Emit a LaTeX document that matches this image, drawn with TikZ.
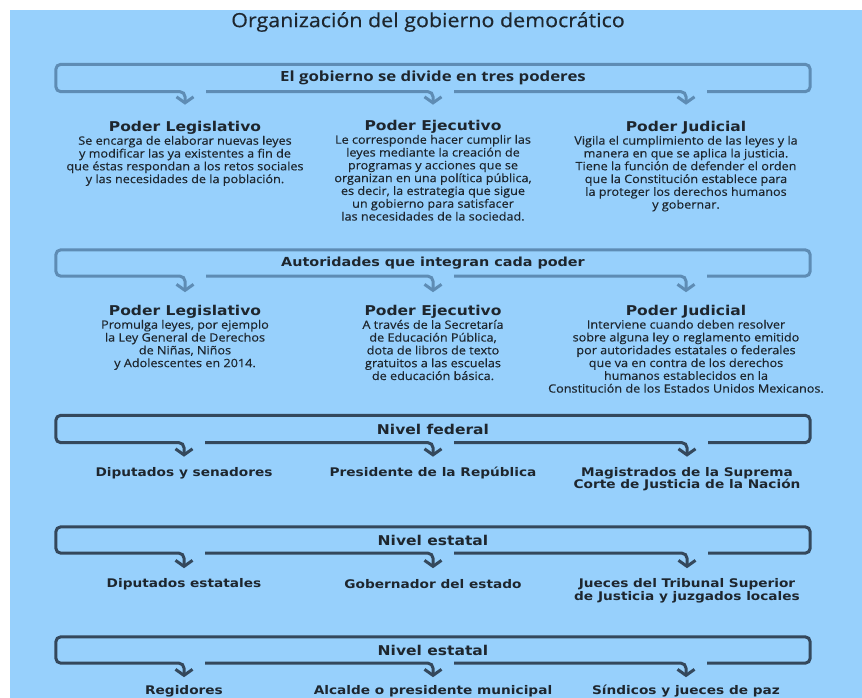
\documentclass[tikz,border=0pt]{standalone}
\usepackage{fontspec}
\setmainfont{Open Sans}
\newfontfamily\cuerpofont[FakeStretch=1.1, FakeBold=0.4]{Open Sans}
\newfontfamily\rotfont[FakeStretch=1.2]{Open Sans}
\newfontfamily\anchafont[FakeStretch=1.15]{DejaVu Sans}
\usetikzlibrary{positioning, arrows.meta}
\definecolor{SkyBack}{RGB}{151,208,252}
\definecolor{BarBlue}{RGB}{94,140,180}
\definecolor{BarDark}{RGB}{52,72,92}
\definecolor{InkGray}{RGB}{30,38,46}

\begin{document}
\begin{tikzpicture}[x=1pt, y=-1pt,
  every node/.style={text=InkGray, inner sep=0pt},
  titulo/.style={font=\cuerpofont\fontsize{19.5}{23}\selectfont},
  barra/.style={line width=3pt, rounded corners=5pt, -{Straight Barb[length=6pt, width=17pt]}},
  rotulo/.style={minimum width=754pt, minimum height=27pt, font=\anchafont\bfseries\fontsize{12.5}{14}\selectfont},
  nivel/.style={rotulo, font=\anchafont\bfseries\fontsize{13.5}{15}\selectfont},
  poder/.style={font=\anchafont\bfseries\fontsize{13.5}{15}\selectfont},
  texto/.style={align=center, below=1pt of #1, font=\cuerpofont\fontsize{11.5}{12.8}\selectfont},
  cargo/.style={align=center, font=\anchafont\bfseries\fontsize{11.9}{12.5}\selectfont}
]

\fill[white] (0,0) rectangle (862,698);
\fill[SkyBack] (10,10) rectangle (862,698);

\node[titulo] (titulo) at (428,22) {Organización del gobierno democrático};

% Bloque 1: los tres poderes
\node[rotulo, font=\rotfont\bfseries\fontsize{14}{16}\selectfont] (poderes) at (433,78) {El gobierno se divide en tres poderes};

\node[poder] (legis1) at (185,128) {Poder Legislativo};
\node[texto=legis1] (legis1txt) {Se encarga de elaborar nuevas leyes\\y modificar las ya existentes a fin de\\que éstas respondan a los retos sociales\\y las necesidades de la población.};
\node[poder] (ejec1) at (433,127) {Poder Ejecutivo};
\node[texto=ejec1] (ejec1txt) {Le corresponde hacer cumplir las\\leyes mediante la creación de\\programas y acciones que se\\organizan en una política pública,\\es decir, la estrategia que sigue\\un gobierno para satisfacer\\las necesidades de la sociedad.};
\node[poder] (judi1) at (686,128) {Poder Judicial};
\node[texto=judi1] (judi1txt) {Vigila el cumplimiento de las leyes y la\\manera en que se aplica la justicia.\\Tiene la función de defender el orden\\que la Constitución establece para\\la proteger los derechos humanos\\y gobernar.};

\coordinate (p1) at ([yshift=-13pt]poderes.south -| legis1);
\coordinate (p2) at ([yshift=-13pt]poderes.south -| ejec1);
\coordinate (p3) at ([yshift=-13pt]poderes.south -| judi1);
\draw[barra, BarBlue] ([xshift=21pt]p3 |- poderes.south) -| (poderes.north east) -| (poderes.south west) -| (p1);
\draw[barra, BarBlue] ([xshift=21pt]p1 |- poderes.south) -| (p2);
\draw[barra, BarBlue] ([xshift=21pt]p2 |- poderes.south) -| (p3);

% Bloque 2: autoridades
\node[rotulo, minimum height=26pt] (autoridades) at (433,263) {Autoridades que integran cada poder};

\node[poder] (legis2) at (185,312) {Poder Legislativo};
\node[texto=legis2] (legis2txt) {Promulga leyes, por ejemplo\\la Ley General de Derechos\\de Niñas, Niños\\y Adolescentes en 2014.};
\node[poder] (ejec2) at (433,312) {Poder Ejecutivo};
\node[texto=ejec2] (ejec2txt) {A través de la Secretaría\\de Educación Pública,\\dota de libros de texto\\gratuitos a las escuelas\\de educación básica.};
\node[poder] (judi2) at (686,312) {Poder Judicial};
\node[texto=judi2] (judi2txt) {Interviene cuando deben resolver\\sobre alguna ley o reglamento emitido\\por autoridades estatales o federales\\que va en contra de los derechos\\humanos establecidos en la\\Constitución de los Estados Unidos Mexicanos.};

\coordinate (q1) at ([yshift=-16pt]autoridades.south -| legis2);
\coordinate (q2) at ([yshift=-16pt]autoridades.south -| ejec2);
\coordinate (q3) at ([yshift=-16pt]autoridades.south -| judi2);
\draw[barra, BarBlue] ([xshift=21pt]q3 |- autoridades.south) -| (autoridades.north east) -| (autoridades.south west) -| (q1);
\draw[barra, BarBlue] ([xshift=21pt]q1 |- autoridades.south) -| (q2);
\draw[barra, BarBlue] ([xshift=21pt]q2 |- autoridades.south) -| (q3);

% Bloque 3: nivel federal
\node[nivel] (federal) at (433,429) {Nivel federal};
\node[cargo] (diputados) at (184,473) {Diputados y senadores};
\node[cargo] (presidente) at (433,473) {Presidente de la República};
\node[cargo] (magistrados) at (687,479) {Magistrados de la Suprema\\Corte de Justicia de la Nación};

\coordinate (r1) at ([yshift=-14pt]federal.south -| diputados);
\coordinate (r2) at ([yshift=-14pt]federal.south -| presidente);
\coordinate (r3) at ([yshift=-14pt]federal.south -| magistrados);
\draw[barra, BarDark] ([xshift=21pt]r3 |- federal.south) -| (federal.north east) -| (federal.south west) -| (r1);
\draw[barra, BarDark] ([xshift=21pt]r1 |- federal.south) -| (r2);
\draw[barra, BarDark] ([xshift=21pt]r2 |- federal.south) -| (r3);

% Bloque 4: nivel estatal
\node[nivel, minimum height=26pt] (estatal) at (433,540) {Nivel estatal};
\node[cargo] (dipestatales) at (184,584) {Diputados estatales};
\node[cargo] (gobernador) at (433,584) {Gobernador del estado};
\node[cargo] (jueces) at (687,591) {Jueces del Tribunal Superior\\de Justicia y juzgados locales};

\coordinate (s1) at ([yshift=-15pt]estatal.south -| dipestatales);
\coordinate (s2) at ([yshift=-15pt]estatal.south -| gobernador);
\coordinate (s3) at ([yshift=-15pt]estatal.south -| jueces);
\draw[barra, BarDark] ([xshift=21pt]s3 |- estatal.south) -| (estatal.north east) -| (estatal.south west) -| (s1);
\draw[barra, BarDark] ([xshift=21pt]s1 |- estatal.south) -| (s2);
\draw[barra, BarDark] ([xshift=21pt]s2 |- estatal.south) -| (s3);

% Bloque 5: ultimo nivel
\node[nivel, minimum height=26pt] (municipal) at (433,650) {Nivel estatal};
\node[cargo] (regidores) at (184,691) {Regidores};
\node[cargo] (alcalde) at (433,691) {Alcalde o presidente municipal};
\node[cargo] (sindicos) at (686,691) {Síndicos y jueces de paz};

\coordinate (t1) at ([yshift=-14pt]municipal.south -| regidores);
\coordinate (t2) at ([yshift=-14pt]municipal.south -| alcalde);
\coordinate (t3) at ([yshift=-14pt]municipal.south -| sindicos);
\draw[barra, BarDark] ([xshift=21pt]t3 |- municipal.south) -| (municipal.north east) -| (municipal.south west) -| (t1);
\draw[barra, BarDark] ([xshift=21pt]t1 |- municipal.south) -| (t2);
\draw[barra, BarDark] ([xshift=21pt]t2 |- municipal.south) -| (t3);

\useasboundingbox (0,0) rectangle (862,698);
\end{tikzpicture}
\end{document}
